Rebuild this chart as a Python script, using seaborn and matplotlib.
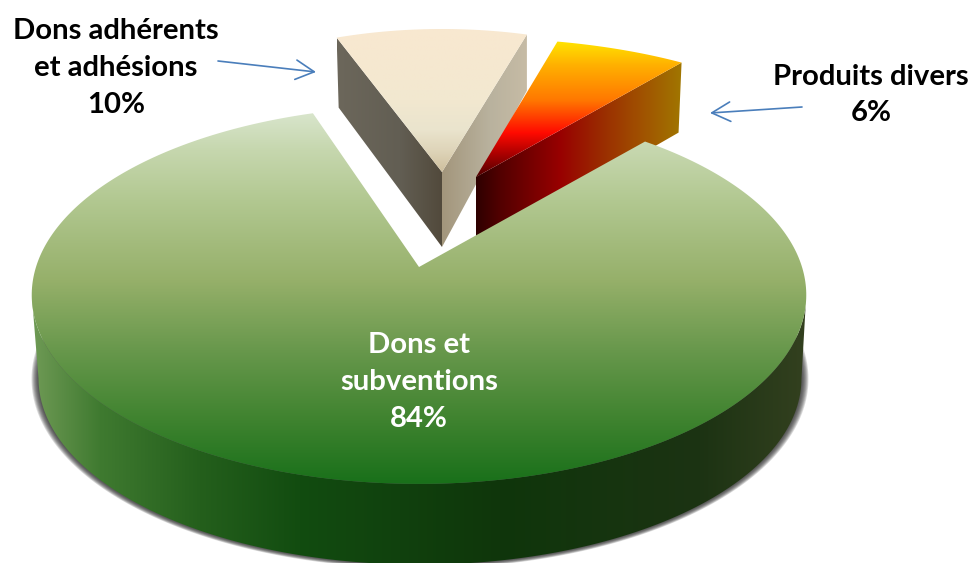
import numpy as np
import matplotlib
matplotlib.use("Agg")
import matplotlib.pyplot as plt
from matplotlib.patches import Polygon
import seaborn as sns

# ---- data ----
categories = ["Dons et\nsubventions", "Dons adhérents\net adhésions", "Produits divers"]
shares = [84, 10, 6]

# ---- style ----
sns.set_theme(style="white")
plt.rcParams["font.family"] = ["Lato", "DejaVu Sans"]

# per-slice projection: apex px, A, B, perspective k, angle nudge, sweep factor
frames = [
    dict(cx=419, cy=267, A=383, B=184.8, k=0.148, nudge=0.0, sweep=0.994),
    dict(cx=442, cy=172, A=308, B=143, k=0.0, nudge=-3.4, sweep=1.0),
    dict(cx=476, cy=177, A=362, B=139, k=0.0, nudge=-6.4, sweep=1.0),
]
START = 41.0

GREEN_TOP = [(105, "#DCE8D2"), (150, "#C6D7AE"), (200, "#B2C891"), (280, "#96B06A"),
             (350, "#68984C"), (420, "#3F832F"), (484, "#19701A")]
GREEN_WALL = [(32, "#6F9A55"), (100, "#3F7A30"), (200, "#245F1C"), (300, "#124C10"),
              (500, "#0F360B"), (700, "#1C3313"), (806, "#33401F")]
BEIGE_TOP = [(29, "#F9E8D0"), (100, "#F2E8D0"), (130, "#EAE4CD"), (150, "#DFD5BA"), (172, "#CFBF9E")]
BEIGE_L = [(337, "#6C675B"), (400, "#625E53"), (442, "#524A3C")]
BEIGE_R = [(442, "#A3967C"), (490, "#B9B29E"), (527, "#C6BBA5")]
ORANGE_TOP = [(38, "#FFEA00"), (65, "#FFB000"), (100, "#FF7800"), (133, "#FF0A00"),
              (155, "#A80000"), (178, "#4A0000")]
ORANGE_WALL = [(476, "#2E0000"), (500, "#520000"), (560, "#980000"), (600, "#9A2A00"),
               (640, "#A05000"), (682, "#A07600")]


def rgb(stops):
    pos = [s[0] for s in stops]
    cols = np.array([matplotlib.colors.to_rgb(s[1]) for s in stops])
    return pos, cols


def gradient(ax, poly, stops, vertical, zorder):
    pos, cols = rgb(stops)
    grid = np.arange(pos[0], pos[-1] + 1)
    arr = np.stack([np.interp(grid, pos, cols[:, i]) for i in range(3)], axis=-1)
    xs, ys = poly[:, 0], poly[:, 1]
    x0, x1, y0, y1 = xs.min() - 2, xs.max() + 2, ys.min() - 2, ys.max() + 2
    if vertical:
        img = arr[:, None, :]
        ext = (x0, x1, pos[-1], pos[0])
    else:
        img = arr[None, :, :]
        ext = (pos[0], pos[-1], y1, y0)
    im = ax.imshow(img, extent=ext, aspect="auto", zorder=zorder, interpolation="bilinear")
    im.set_clip_path(Polygon(poly, closed=True, transform=ax.transData))


def pts(f, angs, r=1.0, dx=0.0, dy=0.0, s=1.0):
    t = np.radians(np.asarray(angs, float))
    u, v = r * np.sin(t), r * np.cos(t)
    w = 1 + f["k"] * v
    return np.column_stack([f["cx"] + dx + s * f["A"] * u / w,
                            f["cy"] + dy - s * f["B"] * v / w])


fig = plt.figure(figsize=(9.73, 5.63), dpi=100)
ax = fig.add_axes([0, 0, 1, 1])

# angles derived from the values
spans = [v / sum(shares) * 360 for v in shares]
starts = []
a = START
for sp, f in zip(spans, frames):
    starts.append(a + f["nudge"])
    a += sp
g, b, o = frames

# --- beige slice (behind) ---
ang = np.linspace(starts[1], starts[1] + spans[1] * b["sweep"], 40)
arc = pts(b, ang)
apex = np.array([[b["cx"], b["cy"]]])
apex_low = apex + [0, 75]
left_low = arc[0] + [2, 70]
right_low = arc[-1] + [0, 56]
gradient(ax, np.vstack([apex, arc[:1], [left_low], apex_low]), BEIGE_L, False, 2)
gradient(ax, np.vstack([apex, apex_low, [right_low], arc[-1:]]), BEIGE_R, False, 2)
gradient(ax, np.vstack([apex, arc]), BEIGE_TOP, True, 3)

# --- orange slice ---
ang = np.linspace(starts[2], starts[2] + spans[2] * o["sweep"], 40)
arc = pts(o, ang)
apex = np.array([[o["cx"], o["cy"]]])
gradient(ax, np.vstack([apex, arc[-1:], [arc[-1] + [-3, 70]], apex + [0, 72]]), ORANGE_WALL, False, 4)
gradient(ax, np.vstack([apex, arc]), ORANGE_TOP, True, 5)

# --- green slice ---
full = np.linspace(98.5, 261.5, 140)
rim = pts(g, full)
low = pts(g, full, dx=1, dy=84, s=0.985)
# soft contact shadow: front half only, wider at the sides than below
front = np.linspace(75, 285, 200)
for i in range(8):
    sh = pts(g, front, dx=1, dy=84, s=0.985)
    step = 8 - i
    sh[:, 0] = 420 + (sh[:, 0] - 420) * (1 + step * 0.0023)
    sh[:, 1] = 351 + (sh[:, 1] - 351) * (1 + step * 0.0022)
    ax.add_patch(Polygon(sh, closed=True, fc="#2A2A2A", ec="none", alpha=0.17, zorder=6))
gradient(ax, np.vstack([rim, low[::-1]]), GREEN_WALL, False, 7)
ang = np.linspace(starts[0], starts[0] + spans[0] * g["sweep"], 360)
arc = pts(g, ang)
gradient(ax, np.vstack([[[g["cx"], g["cy"]]], arc]), GREEN_TOP, True, 8)

# --- labels ---
kw = dict(ha="center", va="center", fontweight="bold", fontsize=21.1, linespacing=1.52, zorder=10)
ax.text(419, 382, f"{categories[0]}\n{shares[0]}%", color="white", **kw)
ax.text(116, 68, f"{categories[1]}\n{shares[1]}%", color="black", **kw)
ax.text(871, 95, f"{categories[2]}\n{shares[2]}%", color="black", **kw)

arrow = dict(arrowstyle="->,head_length=0.95,head_width=0.5", color="#4A7EBB", lw=1.2,
             mutation_scale=14, shrinkA=0, shrinkB=0)
ax.annotate("", xy=(316, 72), xytext=(218, 61), arrowprops=arrow, zorder=10)
ax.annotate("", xy=(710, 113), xytext=(802, 107), arrowprops=arrow, zorder=10)

ax.set_xlim(0, 973)
ax.set_ylim(563, 0)
ax.axis("off")
fig.savefig("out.png", dpi=100, facecolor="white")
